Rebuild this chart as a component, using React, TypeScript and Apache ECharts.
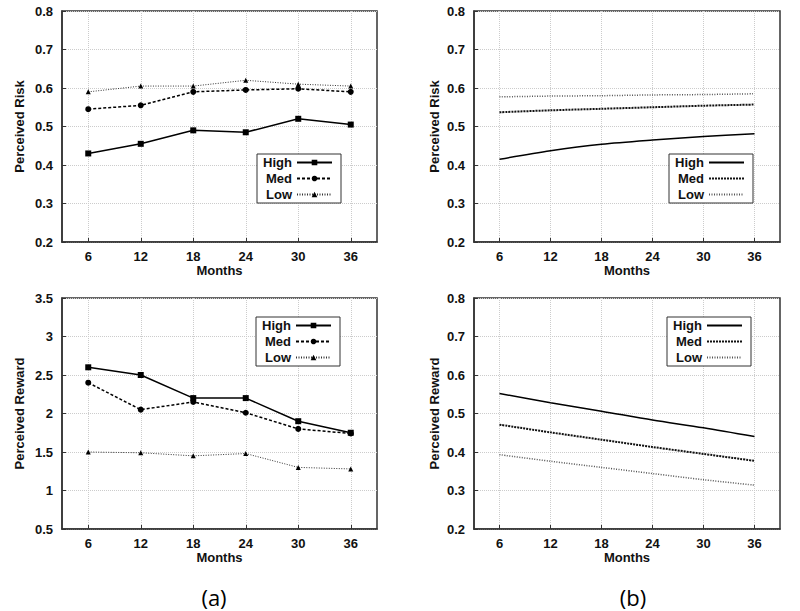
import React, { useEffect, useRef } from "react";
import * as echarts from "echarts";

const months = [6, 12, 18, 24, 30, 36];
const seriesNames = ["High", "Med", "Low"];

// (a) empirical
const riskHighA = [0.43, 0.455, 0.49, 0.485, 0.52, 0.505];
const riskMedA = [0.545, 0.555, 0.59, 0.595, 0.598, 0.59];
const riskLowA = [0.59, 0.605, 0.605, 0.62, 0.61, 0.605];
const rewardHighA = [2.6, 2.5, 2.2, 2.2, 1.9, 1.75];
const rewardMedA = [2.4, 2.05, 2.15, 2.01, 1.8, 1.74];
const rewardLowA = [1.5, 1.49, 1.45, 1.48, 1.3, 1.28];

// (b) model
const riskHighB = [0.415, 0.437, 0.454, 0.465, 0.474, 0.481];
const riskMedB = [0.537, 0.542, 0.546, 0.55, 0.554, 0.557];
const riskLowB = [0.577, 0.579, 0.58, 0.582, 0.583, 0.585];
const rewardHighB = [0.552, 0.528, 0.506, 0.483, 0.463, 0.44];
const rewardMedB = [0.471, 0.451, 0.432, 0.413, 0.395, 0.377];
const rewardLowB = [0.393, 0.376, 0.36, 0.344, 0.328, 0.314];

const panelLabels = ["(a)", "(b)"];

const FONT = "'Liberation Sans', Arial, sans-serif";
const INK = "#111";

const pairs = (vals: number[]) => months.map((m, i) => [m, vals[i]]);

export default function App() {
  const ref = useRef<HTMLDivElement>(null);

  useEffect(() => {
    if (!ref.current) return;
    const chart = echarts.init(ref.current, null, { renderer: "svg" });

    const grids = [
      { left: 62, top: 11, width: 315, height: 231 },
      { left: 474, top: 11, width: 306, height: 231 },
      { left: 62, top: 298, width: 315, height: 231 },
      { left: 474, top: 298, width: 306, height: 231 },
    ].map((g) => ({
      ...g,
      show: true,
      borderColor: "#333",
      borderWidth: 1.5,
      backgroundColor: "transparent",
    }));

    const xAxes = grids.map((_, i) => ({
      type: "value",
      gridIndex: i,
      min: 3,
      max: 39,
      name: "Months",
      nameLocation: "middle",
      nameGap: 19,
      nameTextStyle: { fontFamily: FONT, fontWeight: "bold", fontSize: 13, color: INK },
      axisLine: { show: true, lineStyle: { color: "#333", width: 1.5 } },
      axisTick: { show: true, inside: true, length: 4, customValues: months, lineStyle: { color: "#333" } },
      axisLabel: {
        customValues: months,
        margin: 8,
        fontFamily: FONT,
        fontWeight: "bold",
        fontSize: 13,
        color: INK,
      },
      splitLine: { show: true, lineStyle: { color: "#ccc", type: "dotted", width: 1 } },
    }));

    const yDefs = [
      { min: 0.2, max: 0.8, interval: 0.1, name: "Perceived Risk", gap: 36 },
      { min: 0.2, max: 0.8, interval: 0.1, name: "Perceived Risk", gap: 33 },
      { min: 0.5, max: 3.5, interval: 0.5, name: "Perceived Reward", gap: 36 },
      { min: 0.2, max: 0.8, interval: 0.1, name: "Perceived Reward", gap: 33 },
    ];
    const yAxes = yDefs.map((d, i) => ({
      type: "value",
      gridIndex: i,
      min: d.min,
      max: d.max,
      interval: d.interval,
      name: d.name,
      nameLocation: "middle",
      nameGap: d.gap,
      nameTextStyle: { fontFamily: FONT, fontWeight: "bold", fontSize: 13, color: INK },
      axisLine: { show: true, lineStyle: { color: "#333", width: 1.5 } },
      axisTick: { show: true, inside: true, length: 4, lineStyle: { color: "#333" } },
      axisLabel: { margin: 9, fontFamily: FONT, fontWeight: "bold", fontSize: 13, color: INK },
      splitLine: { show: true, lineStyle: { color: "#ccc", type: "dotted", width: 1 } },
    }));

    const styleA = [
      { symbol: "rect", symbolSize: 6, lineStyle: { color: "#000", width: 1.5, type: "solid" } },
      { symbol: "circle", symbolSize: 6, lineStyle: { color: "#000", width: 1.5, type: [3, 2] } },
      { symbol: "triangle", symbolSize: 5, lineStyle: { color: "#333", width: 1, type: [1, 1.5] } },
    ];
    const styleB = [
      { lineStyle: { color: "#000", width: 1.5, type: "solid" } },
      { lineStyle: { color: "#111", width: 2, type: [2, 1] } },
      { lineStyle: { color: "#555", width: 1.5, type: [1, 1.5] } },
    ];

    const panelData = [
      [riskHighA, riskMedA, riskLowA],
      [riskHighB, riskMedB, riskLowB],
      [rewardHighA, rewardMedA, rewardLowA],
      [rewardHighB, rewardMedB, rewardLowB],
    ];

    const series: any[] = [];
    panelData.forEach((set, p) => {
      const isB = p === 1 || p === 3;
      set.forEach((vals, k) => {
        const name = isB ? seriesNames[k] + " " : seriesNames[k];
        if (isB) {
          series.push({
            type: "line",
            name,
            xAxisIndex: p,
            yAxisIndex: p,
            data: pairs(vals),
            smooth: 0.3,
            showSymbol: false,
            symbol: "none",
            color: "#000",
            lineStyle: styleB[k].lineStyle,
          });
        } else {
          series.push({
            type: "line",
            name,
            xAxisIndex: p,
            yAxisIndex: p,
            data: pairs(vals),
            symbol: styleA[k].symbol,
            symbolSize: styleA[k].symbolSize,
            color: "#000",
            itemStyle: { color: "#000" },
            lineStyle: styleA[k].lineStyle,
          });
        }
      });
    });

    const legendPos = [
      { left: 257, top: 154, b: false },
      { left: 669, top: 154, b: true },
      { left: 256, top: 317, b: false },
      { left: 667, top: 317, b: true },
    ];
    const legends = legendPos.map((lp) => ({
      orient: "vertical",
      left: lp.left,
      top: lp.top,
      align: "right",
      data: seriesNames.map((n) => (lp.b ? n + " " : n)),
      itemWidth: 35,
      itemHeight: 7,
      itemGap: 3,
      padding: [2, 8, 2, 2],
      borderColor: "#333",
      borderWidth: 1,
      backgroundColor: "#fff",
      selectedMode: false,
      ...(lp.b ? { itemStyle: { opacity: 0, borderWidth: 0 } } : {}),
      formatter: (n: string) => `{r|${n.trim()}}`,
      textStyle: {
        fontFamily: FONT,
        fontWeight: "bold",
        fontSize: 13,
        color: INK,
        rich: {
          r: {
            width: 33,
            align: "right",
            fontFamily: FONT,
            fontWeight: "bold",
            fontSize: 13,
            lineHeight: 14,
            color: INK,
          },
        },
      },
    }));

    chart.setOption({
      animation: false,
      backgroundColor: "#fff",
      grid: grids,
      xAxis: xAxes,
      yAxis: yAxes,
      legend: legends,
      series,
      graphic: [
        {
          type: "text",
          x: 214,
          y: 597,
          style: {
            text: panelLabels[0],
            font: "22px 'Open Sans', sans-serif",
            fill: "#000",
            textAlign: "center",
            textVerticalAlign: "middle",
          },
        },
        {
          type: "text",
          x: 633,
          y: 597,
          style: {
            text: panelLabels[1],
            font: "22px 'Open Sans', sans-serif",
            fill: "#000",
            textAlign: "center",
            textVerticalAlign: "middle",
          },
        },
      ],
    });

    return () => chart.dispose();
  }, []);

  return (
    <div
      ref={ref}
      style={{ position: "absolute", left: 0, top: 0, width: 800, height: 611, background: "#fff" }}
    />
  );
}
